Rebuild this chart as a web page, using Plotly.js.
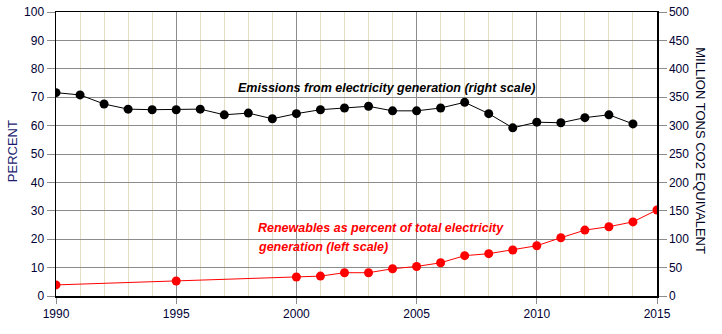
<!DOCTYPE html>
<html>
<head>
<meta charset="utf-8">
<script src="https://cdn.plot.ly/plotly-3.0.1.min.js"></script>
<style>html,body{margin:0;padding:0;background:#fff;}#chart{width:722px;height:334px;}</style>
</head>
<body>
<div id="chart"></div>
<script>
var emissionYears = [1990,1991,1992,1993,1994,1995,1996,1997,1998,1999,2000,2001,2002,2003,2004,2005,2006,2007,2008,2009,2010,2011,2012,2013,2014];
var emissions = [358,354,338,329,328,328,329,319,322,312,321,328,331,334,326,326,331,341,321,296,306,305,314,319,303];
var renewYears = [1990,1995,2000,2001,2002,2003,2004,2005,2006,2007,2008,2009,2010,2011,2012,2013,2014,2015];
var renewables = [3.9,5.3,6.7,7.0,8.2,8.2,9.6,10.4,11.7,14.2,14.9,16.2,17.7,20.5,23.2,24.4,26.1,30.3];
var leftTicks = [0,10,20,30,40,50,60,70,80,90,100];
var rightTicks = [0,50,100,150,200,250,300,350,400,450,500];
var xTicks = [1990,1995,2000,2005,2010,2015];

var font = 'Arial, "Liberation Sans", sans-serif';
var traces = [
  {x: renewYears, y: renewables, type: 'scatter', mode: 'lines+markers', yaxis: 'y',
   line: {color: '#ff0000', width: 1}, marker: {color: '#ff0000', size: 9}},
  {x: emissionYears, y: emissions, type: 'scatter', mode: 'lines+markers', yaxis: 'y2',
   line: {color: '#000000', width: 1}, marker: {color: '#000000', size: 9}}
];
var layout = {
  width: 722, height: 334,
  margin: {l: 56, r: 65, t: 12, b: 38},
  paper_bgcolor: '#ffffff', plot_bgcolor: '#ffffff',
  showlegend: false,
  font: {family: font, size: 12, color: '#000033'},
  xaxis: {range: [1990, 2015], tickvals: xTicks, ticktext: xTicks.map(String),
    showgrid: true, gridcolor: '#8c8c8c', gridwidth: 1,
    minor: {dtick: 1, showgrid: true, gridcolor: '#e3dfc3', gridwidth: 1},
    showline: true, linecolor: '#000000', linewidth: 1.5, mirror: true,
    ticks: 'outside', ticklen: 6, tickcolor: '#8c8c8c', zeroline: false,
    tickfont: {family: font, size: 12, color: '#000033'}},
  yaxis: {range: [0, 100], tickvals: leftTicks, ticktext: leftTicks.map(String),
    showgrid: true, gridcolor: '#8c8c8c', gridwidth: 1, zeroline: false,
    showline: true, linecolor: '#000000', linewidth: 1.5,
    ticks: 'outside', ticklen: 8, tickcolor: '#8c8c8c',
    tickfont: {family: font, size: 12, color: '#000033'}},
  yaxis2: {range: [0, 500], tickvals: rightTicks, ticktext: rightTicks.map(String),
    overlaying: 'y', side: 'right', showgrid: false, zeroline: false,
    showline: true, linecolor: '#000000', linewidth: 1.5,
    ticks: 'outside', ticklen: 8, tickcolor: '#8c8c8c',
    tickfont: {family: font, size: 12, color: '#000033'}},
  annotations: [
    {text: 'PERCENT', xref: 'paper', yref: 'paper', x: -0.0732, y: 0.51, xanchor: 'center', yanchor: 'middle',
     textangle: -90, showarrow: false, font: {family: font, size: 13, color: '#1a1a70'}},
    {text: 'MILLION TONS CO2 EQUIVALENT', xref: 'paper', yref: 'paper', x: 1.073, y: 0.51, xanchor: 'center', yanchor: 'middle',
     textangle: 90, showarrow: false, font: {family: font, size: 13, color: '#000022'}},
    {text: '<b><i>Emissions from electricity generation (right scale)</i></b>', xref: 'x', yref: 'y',
     x: 1997.5, y: 73.2, xanchor: 'left', yanchor: 'middle', showarrow: false,
     font: {family: font, size: 12.5, color: '#000000'}},
    {text: '<b><i>Renewables as percent of total electricity</i></b>', xref: 'x', yref: 'y',
     x: 1998.3, y: 23.9, xanchor: 'left', yanchor: 'middle', showarrow: false,
     font: {family: font, size: 12.5, color: '#ff0000'}},
    {text: '<b><i>generation (left scale)</i></b>', xref: 'x', yref: 'y',
     x: 1998.3, y: 17.3, xanchor: 'left', yanchor: 'middle', showarrow: false,
     font: {family: font, size: 12.5, color: '#ff0000'}}
  ]
};
Plotly.newPlot('chart', traces, layout, {displayModeBar: false, staticPlot: true});
</script>
</body>
</html>
